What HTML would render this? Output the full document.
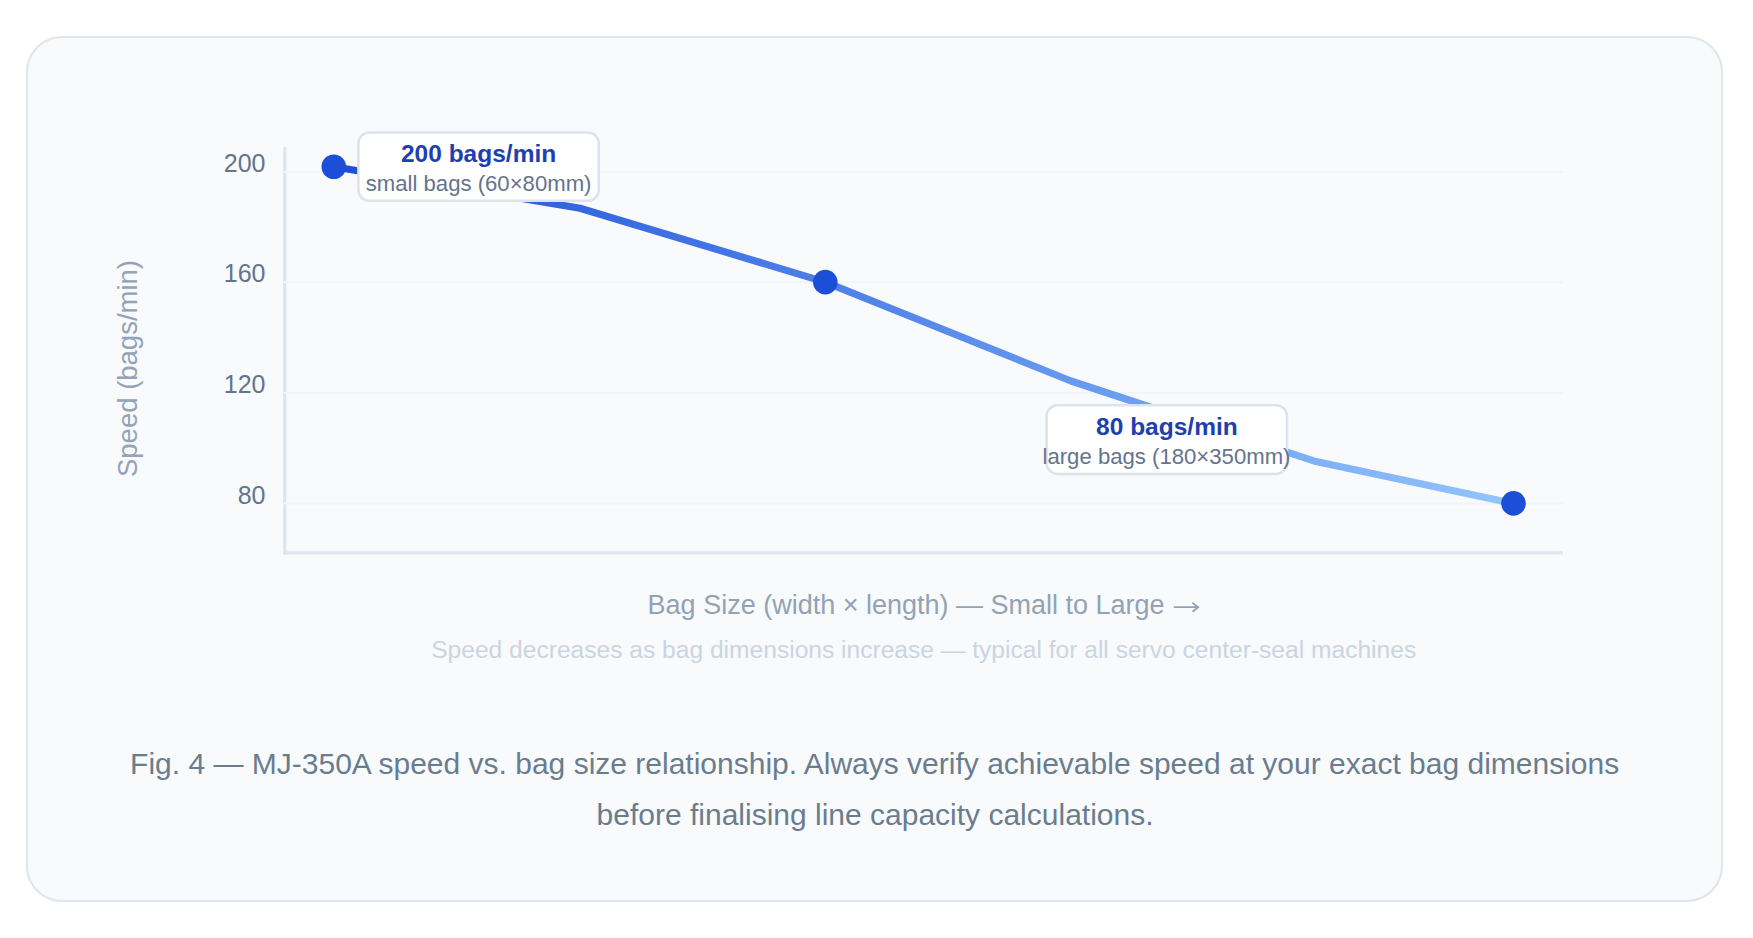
<!DOCTYPE html>
<html>
<head>
<meta charset="utf-8">
<style>
html,body{margin:0;padding:0;background:#ffffff;width:1753px;height:938px;overflow:hidden;}
body{position:relative;font-family:"Liberation Sans",sans-serif;}
.card{position:absolute;left:26px;top:36px;width:1697px;height:866px;box-sizing:border-box;border:2px solid #dfe5ec;border-radius:36px;background:#f8fafc;}
svg{position:absolute;left:0;top:0;}
text{font-family:"Liberation Sans",sans-serif;}
</style>
</head>
<body>
<div class="card"></div>
<svg width="1753" height="938" viewBox="0 0 1753 938">
  <defs>
    <linearGradient id="lg" x1="0" y1="0" x2="1" y2="0">
      <stop offset="0" stop-color="#1d4ed8"/>
      <stop offset="1" stop-color="#93c5fd"/>
    </linearGradient>
  </defs>
  <!-- axes -->
  <line x1="284.8" y1="147" x2="284.8" y2="554.5" stroke="#dfe5ec" stroke-width="3.2"/>
  <line x1="283.2" y1="552.9" x2="1562.8" y2="552.9" stroke="#dfe5ec" stroke-width="3.2"/>
  <!-- grid -->
  <g stroke="#f1f5f9" stroke-width="2">
    <line x1="283.6" y1="172" x2="1562.8" y2="172"/>
    <line x1="283.6" y1="282.2" x2="1562.8" y2="282.2"/>
    <line x1="283.6" y1="392.8" x2="1562.8" y2="392.8"/>
    <line x1="283.6" y1="503.5" x2="1562.8" y2="503.5"/>
  </g>
  <!-- tick labels -->
  <g fill="#64748b" font-size="25" text-anchor="end">
    <text id="k200" x="265.5" y="171.9">200</text>
    <text id="k160" x="265.5" y="281.9">160</text>
    <text id="k120" x="265.5" y="392.6">120</text>
    <text id="k80" x="265.5" y="503.8">80</text>
  </g>
  <!-- y title -->
  <text id="ytitle" transform="translate(137.4 368.5) rotate(-90)" text-anchor="middle" fill="#94a3b8" font-size="27.5">Speed (bags/min)</text>
  <!-- line -->
  <path d="M333.8 166.7 L580 208.2 L825.3 282.1 L1071 381 L1316 461.6 L1513.5 503.4" fill="none" stroke="url(#lg)" stroke-width="7.2" stroke-linejoin="round" stroke-linecap="round"/>
  <!-- dots -->
  <g fill="#1d4ed8">
    <circle cx="333.8" cy="166.7" r="12.3"/>
    <circle cx="825.3" cy="282.1" r="12.3"/>
    <circle cx="1513.5" cy="503.4" r="12.3"/>
  </g>
  <!-- tooltip 1 -->
  <rect x="358.4" y="132.5" width="240.4" height="68.3" rx="11" fill="#ffffff" stroke="#dde3eb" stroke-width="2.5"/>
  <text id="tb1" x="478.6" y="161.7" text-anchor="middle" fill="#1e40af" font-size="24.5" font-weight="bold">200 bags/min</text>
  <text id="ts1" x="478.6" y="190.7" text-anchor="middle" fill="#64748b" font-size="22.15">small bags (60×80mm)</text>
  <!-- tooltip 2 -->
  <rect x="1046.6" y="405.2" width="240.4" height="68.7" rx="11" fill="#ffffff" stroke="#dde3eb" stroke-width="2.5"/>
  <text id="tb2" x="1166.9" y="434.8" text-anchor="middle" fill="#1e40af" font-size="24.5" font-weight="bold">80 bags/min</text>
  <text id="ts2" x="1166.5" y="463.6" text-anchor="middle" fill="#64748b" font-size="22.15">large bags (180×350mm)</text>
  <!-- x title -->
  <text id="xtitle" x="647.6" y="613.6" fill="#93a2b4" font-size="27">Bag Size (width × length) — Small to Large</text>
  <path id="arrow" d="M1173.8 607.2 H1198 M1192.3 602.6 L1198.2 607.2 L1192.5 611.8" fill="none" stroke="#93a2b4" stroke-width="1.8" stroke-linecap="butt" stroke-linejoin="miter"/>
  <text id="sub" x="923.7" y="657.7" text-anchor="middle" fill="#cbd5e1" font-size="24.58">Speed decreases as bag dimensions increase — typical for all servo center-seal machines</text>
  <!-- caption -->
  <g fill="#6a7d8e" font-size="30" text-anchor="middle">
    <text id="cap1" x="874.65" y="774.1">Fig. 4 — MJ-350A speed vs. bag size relationship. Always verify achievable speed at your exact bag dimensions</text>
    <text id="cap2" x="875.05" y="824.9">before finalising line capacity calculations.</text>
  </g>
</svg>
</body>
</html>
